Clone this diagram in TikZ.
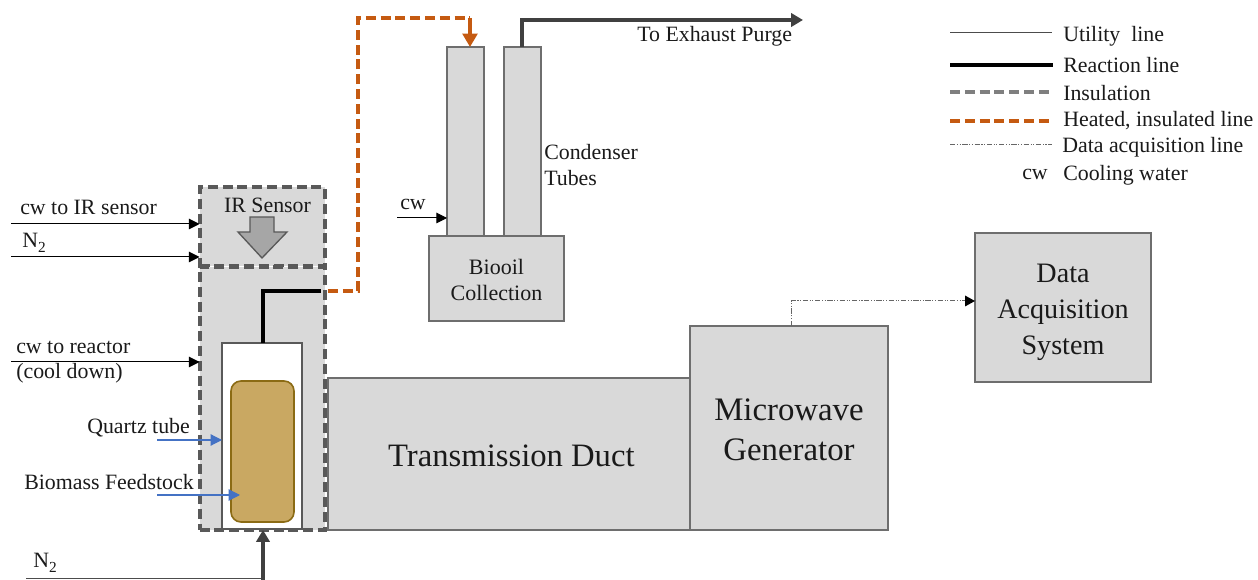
\documentclass[tikz,border=0pt]{standalone}
\usepackage{fontspec}
\setmainfont{Liberation Serif}
\usetikzlibrary{arrows.meta}
\definecolor{boxfill}{HTML}{D9D9D9}
\definecolor{boxline}{HTML}{6E6E6E}
\definecolor{insul}{HTML}{595959}
\definecolor{insullegend}{HTML}{7F7F7F}
\definecolor{heated}{HTML}{C55A11}
\definecolor{bluearrow}{HTML}{4472C4}
\definecolor{biomass}{HTML}{C9A862}
\definecolor{biomassline}{HTML}{8B6B14}
\definecolor{darkline}{HTML}{404040}
\definecolor{irarrow}{HTML}{A6A6A6}
\definecolor{txt}{HTML}{1A1A1A}
\newcommand{\subtwo}{\raisebox{-0.45ex}{\fontsize{11.5}{12}\selectfont 2}}
\tikzset{
  px/.style={x=0.75pt,y=-0.75pt},
  sz/.style 2 args={minimum width=#1*0.75pt,minimum height=#2*0.75pt,inner sep=0pt,outer sep=0pt},
  unit/.style={draw=boxline,fill=boxfill,line width=1.2pt},
  unittext/.style={inner sep=0pt,text=txt,align=center},
  insulbox/.style={draw=insul,fill=boxfill,line width=3pt,dash pattern=on 7.5pt off 3.6pt},
  lbl/.style={inner sep=0pt,anchor=west,text=txt,align=left,font=\fontsize{16.4}{20}\selectfont},
  util/.style={draw=black,line width=0.75pt,-{Triangle[length=8pt,width=8pt]}},
  utilplain/.style={draw=black!70,line width=0.75pt},
  reaction/.style={draw=black,line width=3pt},
  exhaustln/.style={draw=darkline,line width=3pt},
  heatedln/.style={draw=heated,line width=3pt,dash pattern=on 7.5pt off 3.6pt},
  daqln/.style={draw=black!60,line width=0.75pt,dash pattern=on 4pt off 1.2pt on 0.8pt off 1.2pt on 0.8pt off 1.2pt},
  bluearr/.style={draw=bluearrow,line width=0.9pt,-{Triangle[length=8.5pt,width=8.5pt,fill=bluearrow]}},
}
\begin{document}
\begin{tikzpicture}[px]
\useasboundingbox (0,0) rectangle (1258,580);
% equipment
\node[insulbox,sz={125}{79}] (ir) at (262,227) {};
\node[insulbox,sz={125}{263}] (reactor) at (262,398.5) {};
\node[draw=insul,fill=white,line width=1.2pt,sz={80}{186}] (quartz) at (262,436) {};
\node[draw=biomassline,fill=biomass,line width=1.2pt,rounded corners=7.5pt,sz={63}{141}] (feed) at (262.5,451.5) {};
\node[unit,sz={362}{152},label={[unittext,font=\fontsize{24.5}{30}\selectfont,xshift=1.8pt,yshift=-1.3pt]center:Transmission Duct}] (duct) at (509,454) {};
\node[unit,sz={198}{204},label={[unittext,font=\fontsize{24.6}{30}\selectfont,yshift=-1.5pt]center:Microwave\\Generator}] (mw) at (789,428) {};
\node[unit,sz={176}{149},label={[unittext,font=\fontsize{21.1}{27}\selectfont,yshift=-3.5pt]center:Data\\Acquisition\\System}] (daq) at (1063,307.5) {};
\node[unit,sz={37}{189}] (tubeA) at (465.5,141.5) {};
\node[unit,sz={37}{189}] (tubeB) at (522.5,141.5) {};
\node[unit,sz={135}{85},label={[unittext,font=\fontsize{16.5}{20}\selectfont,yshift=-1.2pt]center:Biooil\hspace{6pt}\\Collection}] (oil) at (496.5,278.5) {};
% IR block arrow
\node[lbl,anchor=center] (irtext) at (267.5,205) {IR Sensor};
\draw[draw=insul,fill=irarrow,line width=1pt,line join=miter]
  (250,217) -- (274,217) -- (274,232) -- (287,232) -- (262,258) -- (238,232) -- (250,232) -- cycle;
% free ends
\coordinate (cwirS) at (11,224);
\coordinate (n2S) at (11,257);
\coordinate (cwrS) at (11,362);
\coordinate (qS) at (157,440);
\coordinate (bS) at (157,495);
\coordinate (bE) at (240,495);
\coordinate (n2bS) at (26,579);
\coordinate (n2bC) at (263,579);
\coordinate (n2bB) at (263,580);
\coordinate (cwcS) at (397,218);
\coordinate (rc0) at (263,343);
\coordinate (rc1) at (263,291);
\coordinate (rc2) at (321,291);
\coordinate (h0) at (328,291);
\coordinate (h1) at (358,291);
\coordinate (h2) at (358,18);
\coordinate (h3) at (470,18);
\coordinate (ex1) at (521.5,20);
\coordinate (ex2) at (803,20);
\coordinate (dq1) at (791,301);
% utility lines
\draw[util] (cwirS) -- (cwirS -| ir.west);
\draw[util] (n2S) -- (n2S -| ir.west);
\draw[util] (cwrS) -- (cwrS -| reactor.west);
\draw[util] (cwcS) -- (cwcS -| tubeA.west);
\draw[bluearr] (qS) -- (qS -| quartz.west);
\draw[bluearr] (bS) -- (bE);
% N2 feed
\draw[utilplain] (n2bS) -- (n2bC);
\draw[exhaustln,-{Triangle[length=9pt,width=10pt]}] (n2bB) -- (n2bB |- reactor.south);
% reaction line
\draw[reaction] (rc0) -- (rc1) -- (rc2);
% heated line
\draw[heatedln] (h0) -- (h1) -- (h2) -- (h3);
\draw[draw=heated,line width=3pt,-{Triangle[length=10pt,width=11pt]}] (h3) -- (h3 |- tubeA.north);
% exhaust
\draw[exhaustln,-{Triangle[length=9pt,width=10pt]}] (ex1 |- tubeB.north) -- (ex1) -- (ex2);
% data line
\draw[daqln] (dq1 |- mw.north) -- (dq1) -- (dq1 -| daq.west);
\draw[fill=black,draw=none] (dq1 -| daq.west) -- ++(-10,-5.5) -- ++(0,11) -- cycle;
% labels
\node[lbl] (l1) at (20,207) {cw to IR sensor};
\node[lbl] (l2) at (22,243) {N\subtwo};
\node[lbl] (l3) at (16,347.5) {cw to reactor};
\node[lbl] (l4) at (16,373) {(cool down)};
\node[lbl] (l5) at (87,428) {Quartz tube};
\node[lbl] (l6) at (24,482) {Biomass Feedstock};
\node[lbl] (l7) at (33,563) {N\subtwo};
\node[lbl] (l8) at (400,204) {cw};
\node[lbl] (l9) at (544,165) {Condenser\\Tubes};
\node[lbl] (l10) at (637,36.5) {To Exhaust Purge};
% legend
\coordinate (lg1) at (950,33);
\coordinate (lg2) at (950,65);
\coordinate (lg3) at (950,92);
\coordinate (lg4) at (950,121);
\coordinate (lg5) at (950,145);
\draw[utilplain] (lg1) -- ++(102,0);
\draw[reaction] (lg2) -- ++(103,0);
\draw[draw=insullegend,line width=3pt,dash pattern=on 7.5pt off 3.6pt] (lg3) -- ++(102,0);
\draw[heatedln] (lg4) -- ++(102,0);
\draw[daqln] (lg5) -- ++(102,0);
\node[lbl] (t1) at (1063,36) {Utility\ \ line};
\node[lbl] (t2) at (1063,65) {Reaction line};
\node[lbl] (t3) at (1063,93.5) {Insulation};
\node[lbl] (t4) at (1063,121) {Heated, insulated line};
\node[lbl] (t5) at (1062,147.5) {Data acquisition line};
\node[lbl] (t6) at (1022,174) {cw};
\node[lbl] (t7) at (1063,175.5) {Cooling water};
\end{tikzpicture}
\end{document}
